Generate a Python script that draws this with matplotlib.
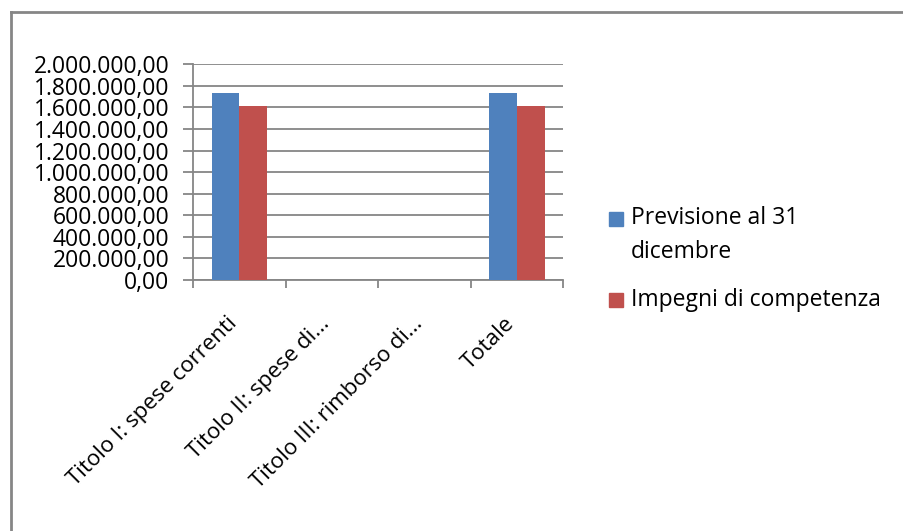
import numpy as np
import matplotlib.pyplot as plt
from matplotlib.lines import Line2D
from matplotlib.patches import Rectangle
from matplotlib.transforms import ScaledTranslation

plt.rcParams['font.family'] = ['Open Sans', 'DejaVu Sans']

categories = ['Titolo I: spese correnti', 'Titolo II: spese di...',
              'Titolo III: rimborso di...', 'Totale']
previsione = [1735000, 0, 0, 1735000]
impegni = [1612000, 0, 0, 1612000]
series_names = ['Previsione al 31\ndicembre', 'Impegni di competenza']
colors = ['#4F81BD', '#C0504D']
yticks = np.arange(0, 2000001, 200000)

W, H = 904, 531


def it_fmt(v):
    s = f'{v:,.2f}'
    return s.replace(',', '#').replace('.', ',').replace('#', '.')


def fx(px):
    return px / W


def fy(py):
    return 1 - py / H


if __name__ == '__main__':
    fig = plt.figure(figsize=(W / 100, H / 100), dpi=100)
    ax = fig.add_axes([0.2135, 0.4727, 0.4093, 0.4063])

    x = np.arange(len(categories))
    w = 0.3
    ax.bar(x - w / 2, previsione, w, color=colors[0], zorder=3)
    ax.bar(x + w / 2, impegni, w, color=colors[1], zorder=3)

    grid_c = '#868686'
    ax.set_ylim(0, 2000000)
    ax.set_xlim(-0.5, len(categories) - 0.5)
    ax.set_yticks(yticks)
    ax.set_yticklabels([it_fmt(v) for v in yticks], fontsize=16.5)
    ax.yaxis.grid(True, color=grid_c, lw=1.3, zorder=0)
    ax.tick_params(axis='y', length=7, width=1.3, color=grid_c, pad=10)

    ax.set_xticks(x)
    ax.set_xticklabels(categories, rotation=45, ha='right', va='center',
                       rotation_mode='anchor', fontsize=16)
    ax.tick_params(axis='x', which='major', length=0, pad=29)
    shift = ScaledTranslation(-5 / 100, 0, fig.dpi_scale_trans)
    for lab in ax.get_xticklabels():
        lab.set_transform(lab.get_transform() + shift)
    ax.set_xticks(np.arange(-0.5, len(categories)), minor=True)
    ax.tick_params(axis='x', which='minor', length=6, width=1.3, color=grid_c)

    for side in ['top', 'right']:
        ax.spines[side].set_visible(False)
    for side in ['left', 'bottom']:
        ax.spines[side].set_color(grid_c)
        ax.spines[side].set_linewidth(1.3)

    # legend, Excel style: square aligned with the first line of the label
    line_gap = 32
    leg_rows = [(212, 226), (293, 306)]
    for (sq_top, base), name, c in zip(leg_rows, series_names, colors):
        fig.add_artist(Rectangle((fx(609), fy(sq_top + 14)), fx(14), 14 / H,
                                 transform=fig.transFigure, color=c))
        last_base = base + line_gap * name.count('\n')
        fig.text(fx(631), fy(last_base), name, fontsize=16.5, va='baseline',
                 ha='left', linespacing=1.56)

    # chart area border (only top and left edges visible)
    fig.add_artist(Line2D([fx(11), 1.0], [fy(12), fy(12)],
                          transform=fig.transFigure, color=grid_c, lw=2))
    fig.add_artist(Line2D([fx(11), fx(11)], [0, fy(12)],
                          transform=fig.transFigure, color=grid_c, lw=2))

    fig.savefig('out.png', dpi=100)
